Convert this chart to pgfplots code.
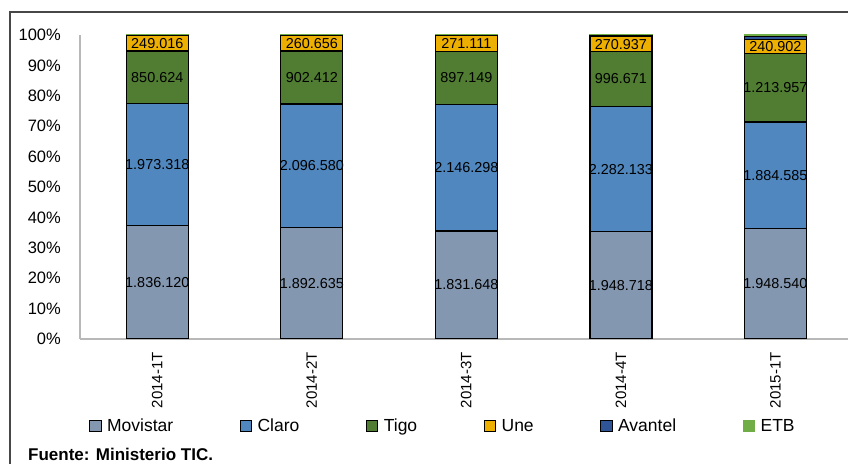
\documentclass[border=0pt]{standalone}
\usepackage{fontspec}
\setmainfont{Liberation Sans}
\usepackage{pgfplots}
\usepackage{pgfplotstable}
\pgfplotsset{compat=1.18}
\definecolor{cMov}{RGB}{132,151,176}
\definecolor{cCla}{RGB}{79,135,190}
\definecolor{cTig}{RGB}{80,125,50}
\definecolor{cUne}{RGB}{237,175,0}
\definecolor{cAva}{RGB}{47,85,151}
\definecolor{cETB}{RGB}{112,173,71}

% values in thousands of subscribers
\pgfplotstableread{
q M C T U A E LM LC LT LU
0 1836.120 1973.318 850.624 249.016 5 5 1.836.120 1.973.318 850.624 249.016
1 1892.635 2096.580 902.412 260.656 5 5 1.892.635 2.096.580 902.412 260.656
2 1831.648 2146.298 897.149 271.111 5 5 1.831.648 2.146.298 897.149 271.111
3 1948.718 2282.133 996.671 270.937 15 15 1.948.718 2.282.133 996.671 270.937
4 1948.540 1884.585 1213.957 240.902 55 25 1.948.540 1.884.585 1.213.957 240.902
}\datatable

\newcommand{\tot}{(\thisrow{M}+\thisrow{C}+\thisrow{T}+\thisrow{U}+\thisrow{A}+\thisrow{E})}

\pgfplotsset{
  mybar/.style={draw=black, line width=1.3bp,
    legend image code/.code={\draw[##1,line width=0.9bp] (0bp,-5.75bp) rectangle (11.5bp,5.75bp);}},
  commonaxis/.style={
    at={(80bp,125bp)}, anchor=south west, scale only axis,
    width=768bp, height=304bp,
    xmin=-0.5, xmax=4.47, ymin=0, ymax=100,
  }
}

\begin{document}
\begin{tikzpicture}
\path[use as bounding box] (0,0) rectangle (848bp,464bp);
\clip (0,0) rectangle (848bp,464bp);
\draw[line width=2bp, black!72] (10bp,-20bp) -- (10bp,452bp) -- (900bp,452bp);
\node[anchor=base west, inner sep=0pt, font=\bfseries\fontsize{17bp}{19bp}\selectfont] at (28bp,3.5bp) {Fuente: Ministerio TIC.};

\begin{axis}[commonaxis,
  ybar stacked, bar width=62bp,
  axis x line*=bottom, axis y line*=left,
  axis line style={draw=black!28, line width=2bp},
  major tick length=0pt,
  xtick={0,1,2,3,4},
  xticklabels={2014-1T,2014-2T,2014-3T,2014-4T,2015-1T},
  ytick={0,10,...,100},
  yticklabels={0\%,10\%,20\%,30\%,40\%,50\%,60\%,70\%,80\%,90\%,100\%},
  yticklabel style={font=\fontsize{16.5bp}{18bp}\selectfont, inner sep=0pt, anchor=east},
  yticklabel shift=19bp,
  xticklabel style={font=\fontsize{15bp}{17bp}\selectfont, inner sep=0pt, rotate=90, anchor=east},
  xticklabel shift=13bp,
  legend columns=6,
  legend style={at={(0.0117,-0.2862)}, anchor=west, draw=none, fill=none, inner sep=0pt,
    font=\fontsize{17.5bp}{20bp}\selectfont,
    nodes={inner sep=0pt},
    /tikz/every odd column/.append style={column sep=5.5bp},
    /tikz/every even column/.append style={column sep=66.5bp}},
]
\addplot[mybar, fill=cMov] table[x expr=\coordindex, y expr={100*\thisrow{M}/\tot}]{\datatable};
\addplot[mybar, fill=cCla] table[x expr=\coordindex, y expr={100*\thisrow{C}/\tot}]{\datatable};
\addplot[mybar, fill=cTig] table[x expr=\coordindex, y expr={100*\thisrow{T}/\tot}]{\datatable};
\addplot[mybar, fill=cUne] table[x expr=\coordindex, y expr={100*\thisrow{U}/\tot}]{\datatable};
\addplot[mybar, fill=cAva] table[x expr=\coordindex, y expr={100*\thisrow{A}/\tot}]{\datatable};
\addplot[mybar, fill=cETB, draw=cETB] table[x expr=\coordindex, y expr={100*\thisrow{E}/\tot}]{\datatable};
\legend{Movistar,Claro,Tigo,Une,Avantel,ETB}
\end{axis}

\begin{axis}[commonaxis, hide axis,
  nodes near coords, point meta=explicit symbolic,
  every node near coord/.append style={anchor=center, text=black, inner sep=0pt,
    font=\fontsize{14.4bp}{16bp}\selectfont},
]
\addplot[draw=none] table[x expr=\coordindex, y expr={100*(0.5*\thisrow{M})/\tot}, meta=LM]{\datatable};
\addplot[draw=none] table[x expr=\coordindex, y expr={100*(\thisrow{M}+0.5*\thisrow{C})/\tot}, meta=LC]{\datatable};
\addplot[draw=none] table[x expr=\coordindex, y expr={100*(\thisrow{M}+\thisrow{C}+0.5*\thisrow{T})/\tot}, meta=LT]{\datatable};
\addplot[draw=none] table[x expr=\coordindex, y expr={100*(\thisrow{M}+\thisrow{C}+\thisrow{T}+0.5*\thisrow{U})/\tot}, meta=LU]{\datatable};
\end{axis}
\end{tikzpicture}
\end{document}
